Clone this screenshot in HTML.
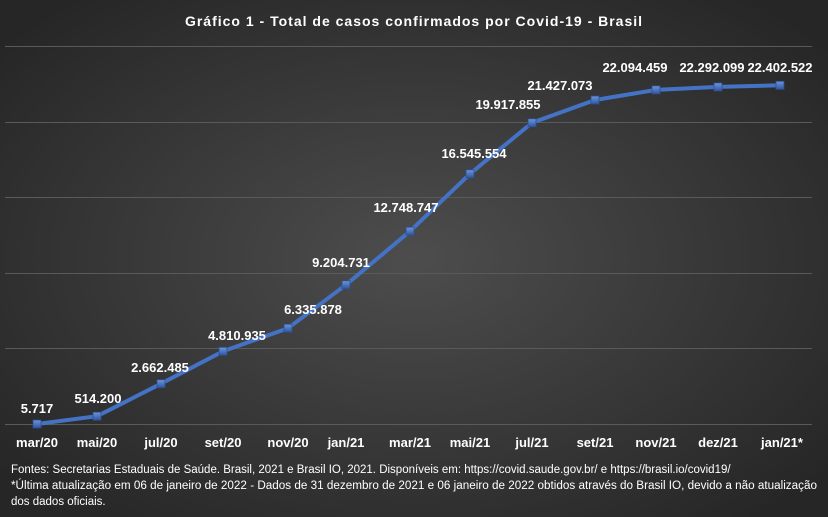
<!DOCTYPE html>
<html><head><meta charset="utf-8"><style>
html,body{margin:0;padding:0;background:#333;}
svg{display:block;font-family:"Liberation Sans",sans-serif;}
</style></head><body>
<svg width="828" height="517" viewBox="0 0 828 517" xmlns="http://www.w3.org/2000/svg">
<defs>
<radialGradient id="bg" cx="50%" cy="50%" r="65%">
<stop offset="0" stop-color="#4d4d4d"/><stop offset="1" stop-color="#262626"/>
</radialGradient>
<linearGradient id="mk" x1="0" y1="0" x2="0" y2="1"><stop offset="0" stop-color="#6f95db"/><stop offset="1" stop-color="#2f56a0"/></linearGradient>
</defs>
<rect width="828" height="517" fill="url(#bg)"/>
<text x="414" y="26" fill="#fff" font-size="14" font-weight="bold" text-anchor="middle" letter-spacing="1">Gráfico 1 - Total de casos confirmados por Covid-19 - Brasil</text>
<g stroke="#5a5a5a" stroke-width="1">
<line x1="5" y1="46.5" x2="812" y2="46.5"/><line x1="5" y1="122.5" x2="812" y2="122.5"/><line x1="5" y1="197.5" x2="812" y2="197.5"/><line x1="5" y1="273.5" x2="812" y2="273.5"/><line x1="5" y1="348.5" x2="812" y2="348.5"/><line x1="5" y1="424.5" x2="812" y2="424.5"/>
</g>
<polyline fill="none" stroke="#4472c4" stroke-width="4" stroke-linejoin="round" points="37,424 97,416.2 161,383.7 223,351.3 288,328.2 346,284.8 410,231.2 470,173.8 532,122.8 595,100 656,89.9 718,86.9 780,85.3"/>
<g fill="url(#mk)" stroke="#2b4f91" stroke-width="0.8">
<rect x="33" y="420" width="8" height="8"/><rect x="93" y="412.2" width="8" height="8"/><rect x="157" y="379.7" width="8" height="8"/><rect x="219" y="347.3" width="8" height="8"/><rect x="284" y="324.2" width="8" height="8"/><rect x="342" y="280.8" width="8" height="8"/><rect x="406" y="227.2" width="8" height="8"/><rect x="466" y="169.8" width="8" height="8"/><rect x="528" y="118.8" width="8" height="8"/><rect x="591" y="96" width="8" height="8"/><rect x="652" y="85.9" width="8" height="8"/><rect x="714" y="82.9" width="8" height="8"/><rect x="776" y="81.3" width="8" height="8"/>
</g>
<g fill="#fff" font-size="13" font-weight="bold" text-anchor="middle">
<text x="37" y="413">5.717</text>
<text x="98" y="403">514.200</text>
<text x="160" y="372">2.662.485</text>
<text x="237" y="340">4.810.935</text>
<text x="313" y="314">6.335.878</text>
<text x="341" y="267">9.204.731</text>
<text x="406" y="212">12.748.747</text>
<text x="474" y="158">16.545.554</text>
<text x="508" y="109">19.917.855</text>
<text x="560" y="90">21.427.073</text>
<text x="635" y="72">22.094.459</text>
<text x="712" y="72">22.292.099</text>
<text x="780" y="72">22.402.522</text>
</g>
<g fill="#fff" font-size="13" font-weight="bold" text-anchor="middle">
<text x="37" y="447">mar/20</text><text x="97" y="447">mai/20</text><text x="161" y="447">jul/20</text><text x="223" y="447">set/20</text><text x="288" y="447">nov/20</text><text x="346" y="447">jan/21</text><text x="410" y="447">mar/21</text><text x="470" y="447">mai/21</text><text x="532" y="447">jul/21</text><text x="595" y="447">set/21</text><text x="656" y="447">nov/21</text><text x="718" y="447">dez/21</text><text x="782" y="447">jan/21*</text>
</g>
<g fill="#fff" font-size="11.5">
<text x="11" y="473">Fontes: Secretarias Estaduais de Saúde. Brasil, 2021 e Brasil IO, 2021. Disponíveis em: https://covid.saude.gov.br/ e https://brasil.io/covid19/</text>
<text x="11" y="489" textLength="806" lengthAdjust="spacingAndGlyphs">*Última atualização em 06 de janeiro de 2022 - Dados de 31 dezembro de 2021 e 06 janeiro de 2022 obtidos através do Brasil IO, devido a não atualização</text>
<text x="11" y="505">dos dados oficiais.</text>
</g>
</svg>
</body></html>
